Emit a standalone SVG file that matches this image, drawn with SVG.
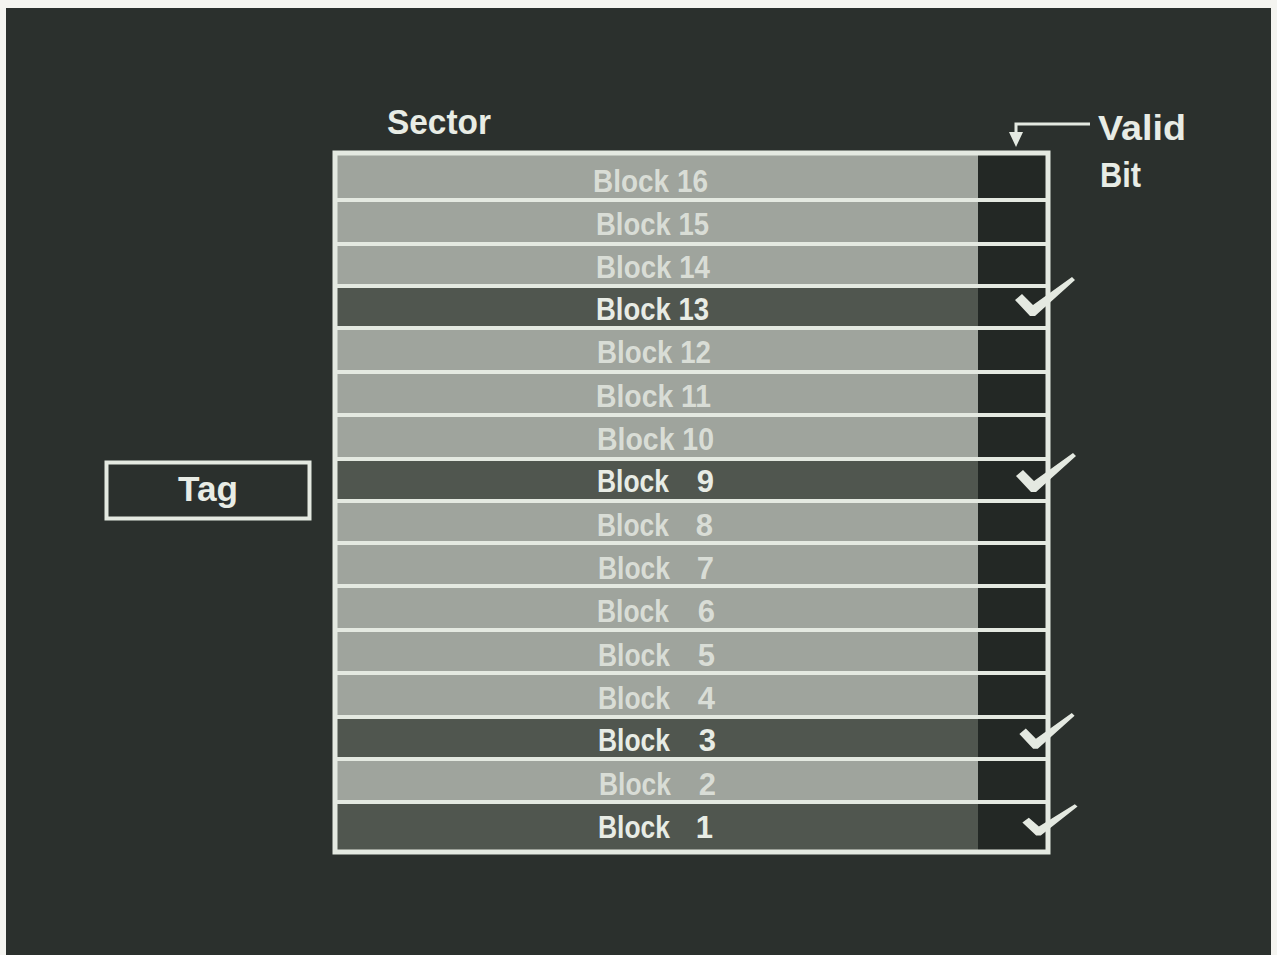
<svg xmlns="http://www.w3.org/2000/svg" width="1277" height="955" viewBox="0 0 1277 955">
<style>
.lbl{font-family:"Liberation Sans",Arial,sans-serif;font-weight:bold;}
.blk{font-size:31px;}
.on-light{fill:#d9ddd6;}
.on-dark{fill:#e8ece5;}
.light{fill:#9fa49d;}
.dark{fill:#50564f;}
.sep{stroke:#e4e9e1;stroke-width:4;fill:none;}
.frame{stroke:#e4e9e1;stroke-width:5;fill:none;}
.title{font-size:35px;fill:#e8ece5;}
.check{fill:#e4e9e1;}
</style>
<defs>
<polygon id="chk" points="-17,-13 -10,-19 1,-8 40,-36 43,-33 3,3 -2,3"/>
</defs>
<rect x="0" y="0" width="1277" height="955" fill="#f4f4f0"/>
<rect x="6" y="8" width="1265" height="947" fill="#2b302d"/>

<g id="sector-label"><text class="lbl title" x="387" y="134" textLength="104" lengthAdjust="spacingAndGlyphs">Sector</text></g>
<g id="valid-bit-label">
<text class="lbl title" x="1098" y="140" textLength="88" lengthAdjust="spacingAndGlyphs">Valid</text>
<text class="lbl title" x="1100" y="187" textLength="41" lengthAdjust="spacingAndGlyphs">Bit</text>
</g>

<g id="tag">
<rect x="106.5" y="462.5" width="203" height="56" fill="none" stroke="#e4e9e1" stroke-width="4"/>
<text class="lbl title" x="178" y="501" font-size="36" textLength="60" lengthAdjust="spacingAndGlyphs">Tag</text>
</g>

<g id="sector">
<rect x="335" y="153" width="713" height="699" fill="#9fa49d"/>
<rect x="978" y="153" width="70" height="699" fill="#232825"/>
<rect class="light" x="337" y="153" width="641" height="47"/>
<rect class="light" x="337" y="200" width="641" height="44"/>
<rect class="light" x="337" y="244" width="641" height="42"/>
<rect class="dark" x="337" y="286" width="641" height="42"/>
<rect class="light" x="337" y="328" width="641" height="44"/>
<rect class="light" x="337" y="372" width="641" height="43"/>
<rect class="light" x="337" y="415" width="641" height="44"/>
<rect class="dark" x="337" y="459" width="641" height="42"/>
<rect class="light" x="337" y="501" width="641" height="42"/>
<rect class="light" x="337" y="543" width="641" height="43"/>
<rect class="light" x="337" y="586" width="641" height="44"/>
<rect class="light" x="337" y="630" width="641" height="43"/>
<rect class="light" x="337" y="673" width="641" height="44"/>
<rect class="dark" x="337" y="717" width="641" height="42"/>
<rect class="light" x="337" y="759" width="641" height="43"/>
<rect class="dark" x="337" y="802" width="641" height="50"/>
<path class="sep" d="M335 200H1048M335 244H1048M335 286H1048M335 328H1048M335 372H1048M335 415H1048M335 459H1048M335 501H1048M335 543H1048M335 586H1048M335 630H1048M335 673H1048M335 717H1048M335 759H1048M335 802H1048"/>
<rect class="frame" x="335" y="153" width="713" height="699"/>
</g>

<g id="blocks" class="lbl blk">
<text class="on-light" x="593" y="192" textLength="115" lengthAdjust="spacingAndGlyphs">Block 16</text>
<text class="on-light" x="596" y="235" textLength="113" lengthAdjust="spacingAndGlyphs">Block 15</text>
<text class="on-light" x="596" y="278" textLength="114" lengthAdjust="spacingAndGlyphs">Block 14</text>
<text class="on-dark" x="596" y="320" textLength="113" lengthAdjust="spacingAndGlyphs">Block 13</text>
<text class="on-light" x="597" y="363" textLength="114" lengthAdjust="spacingAndGlyphs">Block 12</text>
<text class="on-light" x="596" y="407" textLength="115" lengthAdjust="spacingAndGlyphs">Block 11</text>
<text class="on-light" x="597" y="450" textLength="117" lengthAdjust="spacingAndGlyphs">Block 10</text>
<text class="on-dark" y="492"><tspan x="597" textLength="72" lengthAdjust="spacingAndGlyphs">Block</tspan><tspan x="714" text-anchor="end">9</tspan></text>
<text class="on-light" y="536"><tspan x="597" textLength="72" lengthAdjust="spacingAndGlyphs">Block</tspan><tspan x="713" text-anchor="end">8</tspan></text>
<text class="on-light" y="579"><tspan x="598" textLength="72" lengthAdjust="spacingAndGlyphs">Block</tspan><tspan x="714" text-anchor="end">7</tspan></text>
<text class="on-light" y="622"><tspan x="597" textLength="72" lengthAdjust="spacingAndGlyphs">Block</tspan><tspan x="715" text-anchor="end">6</tspan></text>
<text class="on-light" y="666"><tspan x="598" textLength="72" lengthAdjust="spacingAndGlyphs">Block</tspan><tspan x="715" text-anchor="end">5</tspan></text>
<text class="on-light" y="709"><tspan x="598" textLength="72" lengthAdjust="spacingAndGlyphs">Block</tspan><tspan x="715" text-anchor="end">4</tspan></text>
<text class="on-dark" y="751"><tspan x="598" textLength="72" lengthAdjust="spacingAndGlyphs">Block</tspan><tspan x="716" text-anchor="end">3</tspan></text>
<text class="on-light" y="795"><tspan x="599" textLength="72" lengthAdjust="spacingAndGlyphs">Block</tspan><tspan x="716" text-anchor="end">2</tspan></text>
<text class="on-dark" y="838"><tspan x="598" textLength="72" lengthAdjust="spacingAndGlyphs">Block</tspan><tspan x="713" text-anchor="end">1</tspan></text>
</g>

<g id="checks" class="check">
<use href="#chk" transform="translate(1032,313)"/>
<use href="#chk" transform="translate(1033,489)"/>
<use href="#chk" transform="translate(1035,746) scale(0.92)"/>
<use href="#chk" transform="translate(1038,833) scale(0.92,0.8)"/>
</g>

<g id="connectors">
<path d="M1090 124H1016V134" fill="none" stroke="#e4e9e1" stroke-width="3"/>
<polygon points="1009,132 1023,132 1016,147" fill="#e4e9e1"/>
</g>
</svg>
